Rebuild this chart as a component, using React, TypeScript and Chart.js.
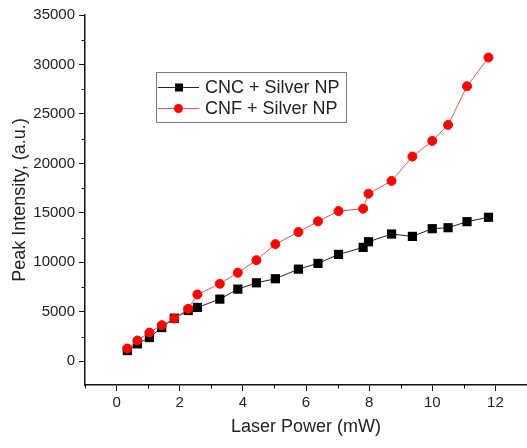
import React, { useEffect, useRef } from 'react';
import { Chart, registerables } from 'chart.js';

Chart.register(...registerables);

const laserPower = [0.34, 0.66, 1.04, 1.43, 1.83, 2.27, 2.56, 3.27, 3.84, 4.43, 5.03, 5.76, 6.38, 7.03, 7.81, 7.98, 8.71, 9.37, 10.0, 10.5, 11.1, 11.78];
const cncSilver = [1080, 1760, 2400, 3410, 4350, 5130, 5440, 6280, 7290, 7930, 8340, 9310, 9890, 10800, 11510, 12080, 12860, 12620, 13400, 13500, 14110, 14550];
const cnfSilver = [1290, 2100, 2900, 3650, 4320, 5300, 6750, 7830, 8950, 10220, 11840, 13060, 14140, 15180, 15420, 16940, 18230, 20690, 22270, 23890, 27800, 30700];
const seriesLabels = ['CNC + Silver NP', 'CNF + Silver NP'];
const xTicks = [0, 2, 4, 6, 8, 10, 12];
const xMinorTicks = [-1, 1, 3, 5, 7, 9, 11];
const yTicks = [0, 5000, 10000, 15000, 20000, 25000, 30000, 35000];
const yMinorTicks = [2500, 7500, 12500, 17500, 22500, 27500, 32500];

const FONT = "'Liberation Sans', Arial, Helvetica, sans-serif";
const TEXT = '#222222';
const AXIS = '#111111';

const minorTickPlugin = {
  id: 'minorTicks',
  afterDraw(chart: any) {
    const { ctx, scales } = chart;
    const xs = scales.x;
    const ys = scales.y;
    ctx.save();
    ctx.strokeStyle = AXIS;
    ctx.lineWidth = 1;
    ctx.beginPath();
    xMinorTicks.forEach((v) => {
      const px = Math.round(xs.getPixelForValue(v)) + 0.5;
      ctx.moveTo(px, ys.bottom);
      ctx.lineTo(px, ys.bottom + 3.5);
    });
    yMinorTicks.forEach((v) => {
      const py = Math.round(ys.getPixelForValue(v)) + 0.5;
      ctx.moveTo(xs.left, py);
      ctx.lineTo(xs.left - 3.5, py);
    });
    ctx.stroke();
    ctx.restore();
  },
};

const boxLegendPlugin = {
  id: 'boxLegend',
  afterDraw(chart: any) {
    const { ctx } = chart;
    const left = 156;
    const top = 72;
    const w = 190;
    const h = 50;
    ctx.save();
    ctx.fillStyle = '#ffffff';
    ctx.fillRect(left, top, w, h);
    ctx.strokeStyle = '#7a7a7a';
    ctx.lineWidth = 1;
    ctx.strokeRect(left + 0.5, top + 0.5, w, h);
    const rows = [87, 108];
    chart.data.datasets.forEach((ds: any, i: number) => {
      const y = rows[i];
      ctx.strokeStyle = ds.borderColor;
      ctx.lineWidth = 1;
      ctx.beginPath();
      ctx.moveTo(158, y + 0.5);
      ctx.lineTo(199, y + 0.5);
      ctx.stroke();
      ctx.fillStyle = ds.pointBackgroundColor;
      if (ds.pointStyle === 'rect') {
        ctx.fillRect(175, y - 3.5, 8, 8);
      } else {
        ctx.beginPath();
        ctx.arc(178.5, y + 0.5, 4.5, 0, Math.PI * 2);
        ctx.fill();
      }
      ctx.fillStyle = TEXT;
      ctx.font = `18px ${FONT}`;
      ctx.textBaseline = 'middle';
      ctx.textAlign = 'left';
      ctx.fillText(ds.label, 205, y + 1);
    });
    ctx.restore();
  },
};

export default function App() {
  const canvasRef = useRef<HTMLCanvasElement | null>(null);

  useEffect(() => {
    document.body.style.margin = '0';
    const canvas = canvasRef.current;
    if (!canvas) return;
    const chart = new Chart(canvas, {
      type: 'line',
      data: {
        datasets: [
          {
            label: seriesLabels[0],
            data: laserPower.map((x, i) => ({ x, y: cncSilver[i] })),
            borderColor: '#222222',
            borderWidth: 1,
            pointStyle: 'rect',
            pointRadius: 6.5,
            pointBackgroundColor: '#000000',
            pointBorderColor: '#000000',
            pointBorderWidth: 0,
            order: 1,
          } as any,
          {
            label: seriesLabels[1],
            data: laserPower.map((x, i) => ({ x, y: cnfSilver[i] })),
            borderColor: '#dc5a5a',
            borderWidth: 1,
            pointStyle: 'circle',
            pointRadius: 4.5,
            pointBackgroundColor: '#ff0000',
            pointBorderColor: '#ff0000',
            pointBorderWidth: 1,
            order: 0,
          } as any,
        ],
      },
      options: {
        responsive: false,
        animation: false,
        devicePixelRatio: 1,
        layout: { autoPadding: false, padding: { top: 15, right: 0, left: 0, bottom: 0 } },
        plugins: {
          legend: { display: false },
          tooltip: { enabled: false },
        },
        scales: {
          x: {
            type: 'linear',
            min: -1,
            max: 13,
            afterBuildTicks: (scale: any) => {
              scale.ticks = xTicks.map((v) => ({ value: v }));
            },
            afterFit: (scale: any) => {
              scale.height = 63;
              scale.paddingRight = 0;
              scale.paddingLeft = 0;
            },
            ticks: {
              font: { family: FONT, size: 15 },
              color: TEXT,
              padding: 3,
              maxRotation: 0,
              autoSkip: false,
              callback: (v: any) => String(v),
            },
            grid: {
              display: true,
              drawOnChartArea: false,
              drawTicks: true,
              tickLength: 6,
              color: AXIS,
              lineWidth: 1,
            },
            border: { display: true, color: AXIS, width: 1.5 },
            title: {
              display: true,
              text: 'Laser Power (mW)',
              font: { family: FONT, size: 18 },
              color: TEXT,
              padding: { top: 0, bottom: 10 },
            },
          },
          y: {
            type: 'linear',
            min: -2400,
            max: 35000,
            afterBuildTicks: (scale: any) => {
              scale.ticks = yTicks.map((v) => ({ value: v }));
            },
            afterFit: (scale: any) => {
              scale.width = 85;
            },
            ticks: {
              font: { family: FONT, size: 15 },
              color: TEXT,
              padding: 4,
              autoSkip: false,
              callback: (v: any) => String(v),
            },
            grid: {
              display: true,
              drawOnChartArea: false,
              drawTicks: true,
              tickLength: 6,
              color: AXIS,
              lineWidth: 1,
            },
            border: { display: true, color: AXIS, width: 1.5 },
            title: {
              display: true,
              text: 'Peak Intensity, (a.u.)',
              font: { family: FONT, size: 18 },
              color: TEXT,
              padding: { top: 9, bottom: 0 },
            },
          },
        },
      } as any,
      plugins: [minorTickPlugin, boxLegendPlugin],
    });
    return () => chart.destroy();
  }, []);

  return (
    <div style={{ width: 527, height: 448, background: '#ffffff' }}>
      <canvas ref={canvasRef} width={527} height={448} style={{ display: 'block' }} />
    </div>
  );
}
